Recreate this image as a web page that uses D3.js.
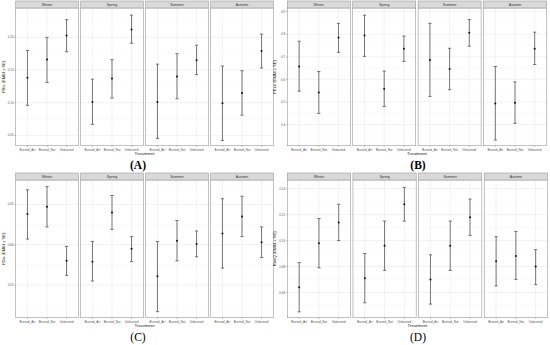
<!DOCTYPE html>
<html lang="en">
  <head>
    <meta charset="UTF-8" />
    <title>EMM facets</title>
    <script src="https://d3js.org/d3.v7.min.js"></script>
    <style>
      body { margin: 0; background: #fff; }
      svg { display: block; font-family: "Liberation Sans", Arial, sans-serif; }
      .grid-major { stroke: #e6e6e6; stroke-width: 0.5px; }
      .grid-minor { stroke: #f2f2f2; stroke-width: 0.3px; }
      .tick-label { fill: #555; font-size: 3.1px; }
      .err { stroke: #555; stroke-width: 0.8px; fill: none; }
      .pt { fill: #111; }
    </style>
  </head>
  <body>
    <svg width="550" height="345"></svg>
    <script>
      const seasons = ["Winter", "Spring", "Summer", "Autumn"];
      const treatments = ["Burned_Art", "Burned_Nat", "Unburned"];

      // (A) FRic — rows are seasons, columns treatments
      const fricMean = [[0.138, 0.166, 0.203], [0.101, 0.137, 0.212], [0.101, 0.140, 0.165], [0.099, 0.115, 0.179]];
      const fricLo = [[0.096, 0.131, 0.178], [0.067, 0.107, 0.191], [0.045, 0.106, 0.143], [0.042, 0.081, 0.153]];
      const fricHi = [[0.180, 0.200, 0.227], [0.136, 0.166, 0.234], [0.159, 0.175, 0.188], [0.156, 0.149, 0.205]];
      const fricTicks = [0.05, 0.10, 0.15, 0.20];

      // (B) FEve
      const feveMean = [[0.657, 0.542, 0.785], [0.794, 0.559, 0.736], [0.686, 0.646, 0.806], [0.494, 0.497, 0.736]];
      const feveLo = [[0.548, 0.450, 0.720], [0.702, 0.480, 0.680], [0.525, 0.555, 0.747], [0.332, 0.406, 0.666]];
      const feveHi = [[0.769, 0.635, 0.848], [0.884, 0.637, 0.792], [0.848, 0.738, 0.865], [0.657, 0.589, 0.809]];
      const feveTicks = [0.4, 0.5, 0.6, 0.7, 0.8, 0.9];

      // (C) FDiv
      const fdivMean = [[0.638, 0.647, 0.580], [0.579, 0.640, 0.595], [0.561, 0.605, 0.601], [0.614, 0.635, 0.603]];
      const fdivLo = [[0.607, 0.622, 0.562], [0.555, 0.619, 0.579], [0.517, 0.580, 0.585], [0.571, 0.610, 0.584]];
      const fdivHi = [[0.668, 0.672, 0.598], [0.604, 0.661, 0.610], [0.604, 0.630, 0.617], [0.657, 0.660, 0.622]];
      const fdivTicks = [0.55, 0.60, 0.65];

      // (D) RaoQ
      const raoMean = [[0.064, 0.098, 0.114], [0.071, 0.096, 0.128], [0.070, 0.096, 0.118], [0.084, 0.088, 0.080]];
      const raoLo = [[0.045, 0.079, 0.100], [0.052, 0.077, 0.115], [0.051, 0.077, 0.104], [0.065, 0.070, 0.066]];
      const raoHi = [[0.083, 0.117, 0.128], [0.090, 0.115, 0.141], [0.089, 0.115, 0.132], [0.103, 0.107, 0.093]];
      const raoTicks = [0.06, 0.08, 0.10, 0.12, 0.14];

      const svg = d3.select("svg");

      function drawPanel(cfg) {
        const g = svg.append("g");
        const nf = seasons.length;
        const gap = 2.4;
        const fw = (cfg.x1 - cfg.x0 - gap * (nf - 1)) / nf;
        const stripH = 7;
        const py0 = cfg.y0 + stripH;
        const py1 = cfg.y1;

        const y = d3.scaleLinear().domain(cfg.domain).range([py1, py0]);
        const fmt = d3.format(cfg.fmt);

        // minor breaks halfway between major ones
        const step = cfg.ticks[1] - cfg.ticks[0];
        const minor = [cfg.ticks[0] - step / 2].concat(cfg.ticks.map((t) => t + step / 2))
          .filter((v) => v > cfg.domain[0] && v < cfg.domain[1]);

        seasons.forEach((s, i) => {
          const fx = cfg.x0 + i * (fw + gap);
          const x = d3.scalePoint().domain(treatments).range([fx, fx + fw]).padding(0.6);
          const fg = g.append("g");

          fg.append("rect").attr("x", fx).attr("y", py0).attr("width", fw)
            .attr("height", py1 - py0).attr("fill", "#fff");

          fg.selectAll(".gmin").data(minor).join("line").attr("class", "grid-minor")
            .attr("x1", fx).attr("x2", fx + fw).attr("y1", (d) => y(d)).attr("y2", (d) => y(d));
          fg.selectAll(".gmaj").data(cfg.ticks).join("line").attr("class", "grid-major")
            .attr("x1", fx).attr("x2", fx + fw).attr("y1", (d) => y(d)).attr("y2", (d) => y(d));
          fg.selectAll(".gx").data(treatments).join("line").attr("class", "grid-major")
            .attr("x1", (d) => x(d)).attr("x2", (d) => x(d)).attr("y1", py0).attr("y2", py1);

          const rows = treatments.map((t, j) => ({
            t: t, m: cfg.mean[i][j], lo: cfg.lo[i][j], hi: cfg.hi[i][j]
          }));
          const cap = 1.6;
          const eb = fg.selectAll(".eb").data(rows).join("g");
          eb.append("line").attr("class", "err")
            .attr("x1", (d) => x(d.t)).attr("x2", (d) => x(d.t))
            .attr("y1", (d) => y(d.lo)).attr("y2", (d) => y(d.hi));
          eb.append("line").attr("class", "err")
            .attr("x1", (d) => x(d.t) - cap).attr("x2", (d) => x(d.t) + cap)
            .attr("y1", (d) => y(d.lo)).attr("y2", (d) => y(d.lo));
          eb.append("line").attr("class", "err")
            .attr("x1", (d) => x(d.t) - cap).attr("x2", (d) => x(d.t) + cap)
            .attr("y1", (d) => y(d.hi)).attr("y2", (d) => y(d.hi));
          eb.append("circle").attr("class", "pt")
            .attr("cx", (d) => x(d.t)).attr("cy", (d) => y(d.m)).attr("r", 1);

          fg.append("rect").attr("x", fx).attr("y", py0).attr("width", fw)
            .attr("height", py1 - py0).attr("fill", "none")
            .attr("stroke", "#9a9a9a").attr("stroke-width", 0.6);

          // strip
          fg.append("rect").attr("x", fx).attr("y", cfg.y0).attr("width", fw)
            .attr("height", stripH).attr("fill", "#d9d9d9")
            .attr("stroke", "#9a9a9a").attr("stroke-width", 0.6);
          fg.append("text").attr("x", fx + fw / 2).attr("y", cfg.y0 + stripH / 2 + 1.2)
            .attr("text-anchor", "middle").attr("font-size", 3.6).attr("fill", "#333")
            .text(s);

          // x axis ticks and labels
          fg.selectAll(".xt").data(treatments).join("line")
            .attr("x1", (d) => x(d)).attr("x2", (d) => x(d))
            .attr("y1", py1).attr("y2", py1 + 1.2)
            .attr("stroke", "#555").attr("stroke-width", 0.4);
          fg.selectAll(".xl").data(treatments).join("text").attr("class", "tick-label")
            .attr("x", (d) => x(d)).attr("y", py1 + 5).attr("text-anchor", "middle")
            .text((d) => d);

          if (i === 0) {
            fg.selectAll(".yt").data(cfg.ticks).join("line")
              .attr("x1", fx - 1.2).attr("x2", fx)
              .attr("y1", (d) => y(d)).attr("y2", (d) => y(d))
              .attr("stroke", "#555").attr("stroke-width", 0.4);
            fg.selectAll(".yl").data(cfg.ticks).join("text").attr("class", "tick-label")
              .attr("x", fx - 2).attr("y", (d) => y(d) + 1.1).attr("text-anchor", "end")
              .text((d) => fmt(d));
          }
        });

        g.append("text").attr("transform", `translate(${cfg.x0 - 11},${(py0 + py1) / 2}) rotate(-90)`)
          .attr("text-anchor", "middle").attr("font-size", 4.2).attr("fill", "#222")
          .text(cfg.ytitle);
        g.append("text").attr("x", (cfg.x0 + cfg.x1) / 2).attr("y", py1 + 9.3)
          .attr("text-anchor", "middle").attr("font-size", 4.4).attr("fill", "#222")
          .text("Treatment");
        g.append("text").attr("x", cfg.letterX).attr("y", py1 + 23.5)
          .attr("text-anchor", "middle").attr("font-size", 11.5)
          .attr("font-family", "'Liberation Serif', 'Times New Roman', serif")
          .attr("font-weight", cfg.bold ? "bold" : "normal").attr("fill", "#000")
          .text(cfg.letter);
      }

      drawPanel({ x0: 15.7, x1: 273.3, y0: 1, y1: 145.7, domain: [0.0342, 0.2449],
        ticks: fricTicks, fmt: ".2f", mean: fricMean, lo: fricLo, hi: fricHi,
        ytitle: "FRic (EMM ± SE)", letter: "(A)", bold: true, letterX: 138 });
      drawPanel({ x0: 287.3, x1: 546.5, y0: 1, y1: 145.7, domain: [0.307, 0.916],
        ticks: feveTicks, fmt: ".1f", mean: feveMean, lo: feveLo, hi: feveHi,
        ytitle: "FEve (EMM ± SE)", letter: "(B)", bold: true, letterX: 418 });
      drawPanel({ x0: 15.7, x1: 273.3, y0: 173, y1: 317.7, domain: [0.5095, 0.6802],
        ticks: fdivTicks, fmt: ".2f", mean: fdivMean, lo: fdivLo, hi: fdivHi,
        ytitle: "FDiv (EMM ± SE)", letter: "(C)", bold: false, letterX: 138 });
      drawPanel({ x0: 287.3, x1: 547.5, y0: 173, y1: 317.7, domain: [0.0405, 0.1467],
        ticks: raoTicks, fmt: ".2f", mean: raoMean, lo: raoLo, hi: raoHi,
        ytitle: "RaoQ (EMM ± SE)", letter: "(D)", bold: false, letterX: 418 });
    </script>
  </body>
</html>
